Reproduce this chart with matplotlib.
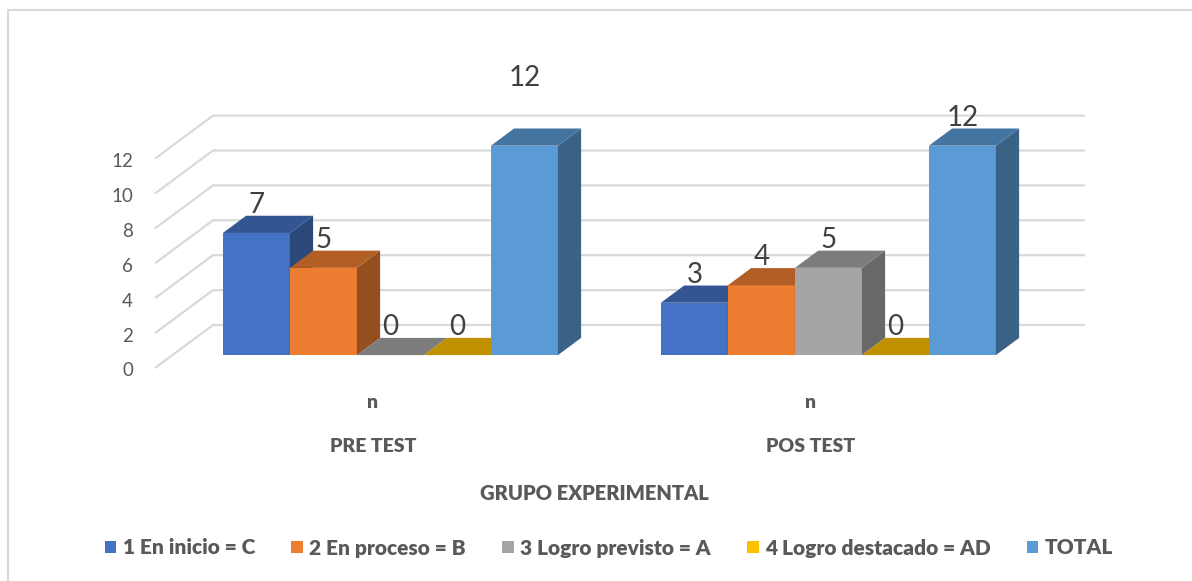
import matplotlib.pyplot as plt
from matplotlib.patches import Polygon, Rectangle, Patch
import numpy as np

plt.rcParams["font.family"] = ["Lato", "DejaVu Sans"]

# datos
grupos = ["PRE TEST", "POS TEST"]
subcat = "n"
series = ["1 En inicio = C", "2 En proceso = B", "3 Logro previsto = A",
          "4 Logro destacado = AD", "TOTAL"]
pre_test = [7, 5, 0, 0, 12]
pos_test = [3, 4, 5, 0, 12]
valores = [pre_test, pos_test]
yticks = [0, 2, 4, 6, 8, 10, 12]
xlabel = "GRUPO EXPERIMENTAL"

colors = ["#4472C4", "#ED7D31", "#A5A5A5", "#FFC000", "#5B9BD5"]


def shade(c, f):
    r, g, b = [int(c[i:i + 2], 16) for i in (1, 3, 5)]
    return (r * f / 255, g * f / 255, b * f / 255)


W, H = 1192, 581
fig = plt.figure(figsize=(W / 100, H / 100), dpi=100)
ax = fig.add_axes([0, 0, 1, 1])

# escala "pseudo 3D": x en grupos, y en valores
PX_G = 438.0      # px por grupo
ORG_X = 373.0     # centro frontal del grupo 0
PX_V = 17.45      # px por unidad
FLOOR = 368.0     # y (px desde arriba) del valor 0 al frente
ax.set_xlim(-ORG_X / PX_G, (W - ORG_X) / PX_G)
ax.set_ylim((FLOOR - H) / PX_V, FLOOR / PX_V)
ax.axis("off")

DX = 58 / PX_G    # profundidad total
DY = 43 / PX_V
BW = 67 / PX_G    # ancho de barra
D0, D1 = 0.3, 0.7
XL = (155 - ORG_X) / PX_G
XR = (1027 - ORG_X) / PX_G


def py2v(py):
    return (FLOOR - py) / PX_V


def px2u(px):
    return (px - ORG_X) / PX_G


# lineas de cuadricula (pared izquierda + fondo)
for t in yticks:
    ax.plot([XL, XL + DX, XR + DX], [t, t + DY, t + DY],
            color="#D9D9D9", lw=1.6, zorder=1, solid_capstyle="butt")
    ax.text(XL - 22 / PX_G, t - 3 / PX_V, str(t), ha="right", va="center",
            fontsize=13.5, color="#595959")

# barras
extra_lbl = {(0, 4): 2.3}
dd = D1 - D0
for g, vals in enumerate(valores):
    for i, v in enumerate(vals):
        xl = g + D0 * DX + (i - 2.5) * BW
        yb = D0 * DY
        top = [(xl, yb + v), (xl + BW, yb + v),
               (xl + BW + dd * DX, yb + v + dd * DY), (xl + dd * DX, yb + v + dd * DY)]
        if v > 0:
            ax.add_patch(Rectangle((xl, yb), BW, v, facecolor=colors[i],
                                   edgecolor="none", zorder=3))
            side = [(xl + BW, yb), (xl + BW + dd * DX, yb + dd * DY),
                    (xl + BW + dd * DX, yb + dd * DY + v), (xl + BW, yb + v)]
            ax.add_patch(Polygon(side, closed=True, facecolor=shade(colors[i], 0.63),
                                 edgecolor="none", zorder=3))
        ax.add_patch(Polygon(top, closed=True, facecolor=shade(colors[i], 0.75),
                             edgecolor="none", zorder=3))
        ax.text(xl + BW / 2, yb + v + 1.6 + extra_lbl.get((g, i), 0), str(v),
                ha="center", va="center", fontsize=20, color="#404040", zorder=5)

# etiquetas de categoria
for g, name in enumerate(grupos):
    ax.text(g, py2v(402), subcat, ha="center", va="center", fontsize=14,
            fontweight="heavy", color="#595959")
    ax.text(g, py2v(447), name, ha="center", va="center", fontsize=14,
            fontweight="heavy", color="#595959")
ax.text(px2u(594), py2v(493), xlabel, ha="center",
        va="center", fontsize=14.5, fontweight="heavy", color="#595959")

# borde del grafico
fig.patches.append(Rectangle((8 / W, -0.1), 1.2, (H - 10) / H + 0.1,
                             transform=fig.transFigure, fill=False,
                             edgecolor="#D9D9D9", lw=1.5))

handles = [Patch(facecolor=c, edgecolor="none") for c in colors]
fig.legend(handles, series, loc="center", bbox_to_anchor=(609 / W, 33 / H),
           ncol=5, frameon=False, handlelength=0.55, handleheight=0.55,
           handletextpad=0.3, columnspacing=1.75,
           prop={"size": 15, "weight": "heavy"}, labelcolor="#595959")

fig.savefig("out.png", dpi=100)
